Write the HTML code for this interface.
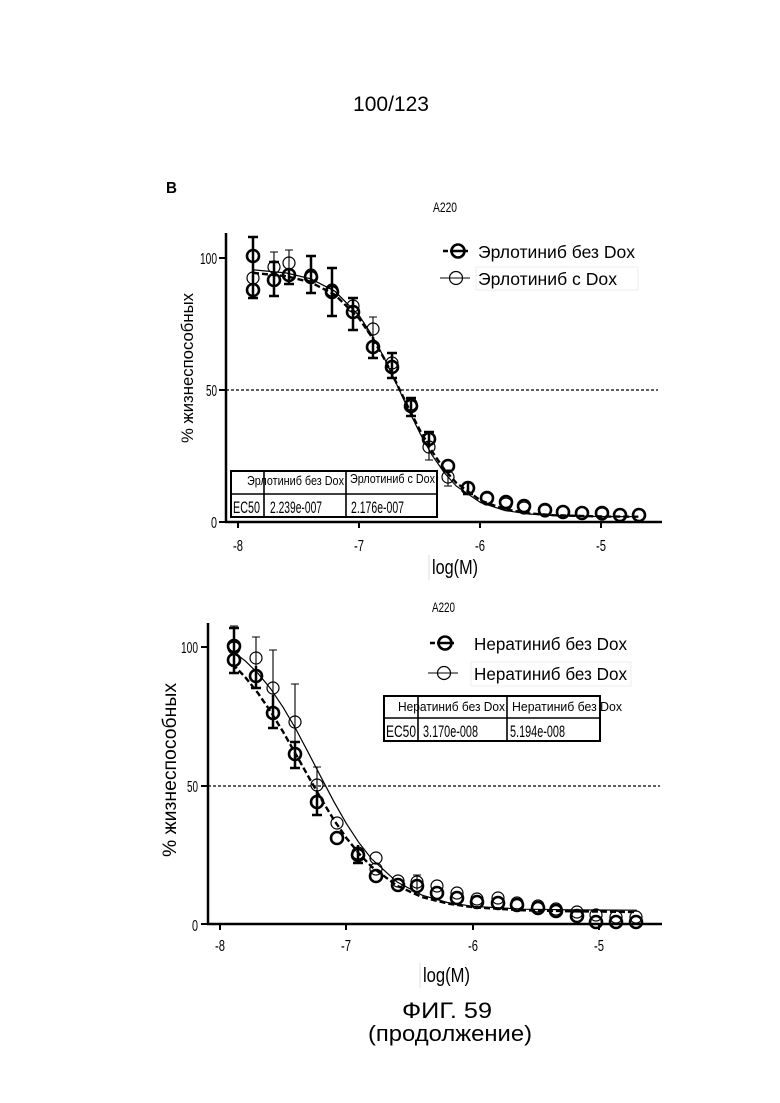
<!DOCTYPE html>
<html><head><meta charset="utf-8">
<style>
html,body{margin:0;padding:0;background:#fff;}
svg{display:block;}
text{font-family:"Liberation Sans","DejaVu Sans",sans-serif;fill:#000;}
</style></head>
<body>
<svg width="780" height="1103" viewBox="0 0 780 1103" xmlns="http://www.w3.org/2000/svg">
<rect width="780" height="1103" fill="#fff"/>
<text x="391" y="111" font-size="21" text-anchor="middle">100/123</text>
<text x="166" y="193" font-size="16" font-weight="bold" textLength="11" lengthAdjust="spacingAndGlyphs">B</text>

<!-- ===== TOP CHART ===== -->
<text x="433" y="212" font-size="14" textLength="24" lengthAdjust="spacingAndGlyphs">A220</text>
<!-- axes -->
<g stroke="#000" stroke-width="2.5" fill="none">
<line x1="226" y1="233" x2="226" y2="523"/>
<line x1="225" y1="522" x2="662" y2="522"/>
</g>
<g stroke="#000" stroke-width="2">
<line x1="219" y1="258" x2="226" y2="258"/>
<line x1="219" y1="390" x2="226" y2="390"/>
<line x1="219" y1="522" x2="226" y2="522"/>
<line x1="238" y1="522" x2="238" y2="528"/>
<line x1="359" y1="522" x2="359" y2="528"/>
<line x1="480" y1="522" x2="480" y2="528"/>
<line x1="601" y1="522" x2="601" y2="528"/>
</g>
<g font-size="16">
<text x="217" y="264" text-anchor="end" textLength="17" lengthAdjust="spacingAndGlyphs">100</text>
<text x="217" y="396" text-anchor="end" textLength="11" lengthAdjust="spacingAndGlyphs">50</text>
<text x="217" y="528" text-anchor="end" textLength="6" lengthAdjust="spacingAndGlyphs">0</text>
<text x="233" y="551" textLength="10" lengthAdjust="spacingAndGlyphs">-8</text>
<text x="354" y="551" textLength="10" lengthAdjust="spacingAndGlyphs">-7</text>
<text x="475" y="551" textLength="10" lengthAdjust="spacingAndGlyphs">-6</text>
<text x="596" y="551" textLength="10" lengthAdjust="spacingAndGlyphs">-5</text>
</g>
<text x="432" y="574" font-size="20" textLength="46" lengthAdjust="spacingAndGlyphs">log(M)</text>
<line x1="429" y1="555" x2="429" y2="580" stroke="#ddd" stroke-width="1"/>
<text transform="translate(193,368) rotate(-90)" font-size="16.5" text-anchor="middle" textLength="150" lengthAdjust="spacingAndGlyphs">% жизнеспособных</text>
<!-- 50% line -->
<line x1="226" y1="390" x2="658" y2="390" stroke="#000" stroke-width="1.3" stroke-dasharray="3,2"/>
<!-- curves -->
<polyline fill="none" stroke="#000" stroke-width="1.2" points="253,269.8 286.5,273.0 310.8,278.8 335.0,291.3 359.3,315.8 371.4,334.3 383.6,356.7 395.7,382.1 407.8,408.5 420,433.3 432.1,455.2 444.2,472.6 456.3,486.1 480.6,502.6 504.9,510.5 529.1,514 553.4,515.5 601.9,516.6 638.3,516.7"/>
<polyline fill="none" stroke="#000" stroke-width="2.4" stroke-dasharray="6,3" points="253,272.9 286.5,276.2 310.8,282.3 335.0,294.8 359.3,318.7 371.4,336.4 383.6,357.5 395.7,381.5 407.8,406.4 420,430.4 432.1,451.5 444.2,469.2 456.3,482.9 480.6,500.5 504.9,509.3 529.1,513.4 553.4,515.2 601.9,516.5 638.3,516.7"/>
<!-- thin error bars -->
<g stroke="#000" stroke-width="1.1" fill="none">
<path d="M274 252V283M270 252H278M289 250V278M285 250H293M373 317V350M369 317H377M448 470V486M444 470H452M444 486H452M429 433V460M425 460H433"/>
</g>
<!-- thin markers -->
<g stroke="#000" stroke-width="1.2" fill="#fff" fill-opacity="0">
<circle cx="253" cy="278" r="6"/><circle cx="274" cy="267" r="6"/><circle cx="289" cy="263" r="6"/>
<circle cx="311" cy="275" r="6"/><circle cx="332" cy="290" r="6"/><circle cx="353" cy="306" r="6"/>
<circle cx="373" cy="329" r="6"/><circle cx="392" cy="363" r="6"/><circle cx="411" cy="404" r="6"/>
<circle cx="429" cy="447" r="6"/><circle cx="448" cy="477" r="6"/><circle cx="468" cy="488" r="6"/>
<circle cx="487" cy="499" r="6"/><circle cx="506" cy="504" r="6"/><circle cx="524" cy="508" r="6"/>
<circle cx="545" cy="511" r="6"/><circle cx="563" cy="512" r="6"/><circle cx="582" cy="513" r="6"/>
<circle cx="602" cy="514" r="6"/><circle cx="620" cy="515" r="6"/><circle cx="639" cy="515" r="6"/>
</g>
<!-- bold error bars -->
<g stroke="#000" stroke-width="2.5" fill="none">
<path d="M253 237V298M248 237H258M248 298H258
M274 262V296M269 262H279M269 296H279
M289 268V284M284 284H294
M311 256V293M306 256H316M306 293H316
M332 268V316M327 268H337M327 316H337
M353 298V330M348 298H358M348 330H358
M373 337V358M368 358H378
M392 353V378M387 353H397M387 378H397
M411 398V416M406 398H416M406 416H416
M429 432V447M424 432H434
M468 482V494M463 494H473"/>
</g>
<!-- bold markers -->
<g stroke="#000" stroke-width="2.6" fill="none">
<circle cx="253" cy="256" r="6"/><circle cx="253" cy="290" r="6"/><circle cx="274" cy="280" r="6"/>
<circle cx="289" cy="275" r="6"/><circle cx="311" cy="277" r="6"/><circle cx="332" cy="292" r="6"/>
<circle cx="353" cy="312" r="6"/><circle cx="373" cy="347" r="6"/><circle cx="392" cy="367" r="6"/>
<circle cx="411" cy="406" r="6"/><circle cx="429" cy="439" r="6"/><circle cx="448" cy="466" r="6"/>
<circle cx="468" cy="488" r="6"/><circle cx="487" cy="498" r="6"/><circle cx="506" cy="502" r="6"/>
<circle cx="524" cy="506" r="6"/><circle cx="545" cy="510" r="6"/><circle cx="563" cy="512" r="6"/>
<circle cx="582" cy="513" r="6"/><circle cx="602" cy="513" r="6"/><circle cx="620" cy="515" r="6"/>
<circle cx="639" cy="515" r="6"/>
</g>
<!-- legend top -->
<g stroke="#000" fill="none">
<line x1="443" y1="251" x2="448" y2="251" stroke-width="2.5"/>
<line x1="450" y1="251" x2="468" y2="251" stroke-width="2.5"/>
<circle cx="458" cy="251" r="6.5" stroke-width="2.6"/>
<line x1="440" y1="278" x2="470" y2="278" stroke-width="1.1"/>
<circle cx="456" cy="278" r="6.5" stroke-width="1.2"/>
</g>
<rect x="476" y="267" width="162" height="23" fill="none" stroke="#eee" stroke-width="1"/>
<text x="478" y="258" font-size="17.5" textLength="157" lengthAdjust="spacingAndGlyphs">Эрлотиниб без Dox</text>
<text x="478" y="285" font-size="17.5" textLength="139" lengthAdjust="spacingAndGlyphs">Эрлотиниб с Dox</text>
<!-- table top -->
<rect x="231" y="471" width="206" height="46" fill="#fff" stroke="#000" stroke-width="2"/>
<g stroke="#000" stroke-width="1.6">
<line x1="231" y1="494" x2="437" y2="494"/>
<line x1="264" y1="471" x2="264" y2="517"/>
<line x1="346" y1="471" x2="346" y2="517"/>
</g>
<text x="247" y="485" font-size="13" textLength="97" lengthAdjust="spacingAndGlyphs">Эрлотиниб без Dox</text>
<text x="350" y="483" font-size="13" textLength="85" lengthAdjust="spacingAndGlyphs">Эрлотиниб с Dox</text>
<text x="233" y="513" font-size="17" textLength="27" lengthAdjust="spacingAndGlyphs">EC50</text>
<text x="270" y="513" font-size="17" textLength="52" lengthAdjust="spacingAndGlyphs">2.239e-007</text>
<text x="351" y="513" font-size="17" textLength="53" lengthAdjust="spacingAndGlyphs">2.176e-007</text>

<!-- ===== BOTTOM CHART ===== -->
<text x="432" y="612" font-size="14" textLength="23" lengthAdjust="spacingAndGlyphs">A220</text>
<g stroke="#000" stroke-width="2.5" fill="none">
<line x1="208" y1="623" x2="208" y2="925"/>
<line x1="207" y1="924" x2="662" y2="924"/>
</g>
<g stroke="#000" stroke-width="2">
<line x1="201" y1="647" x2="208" y2="647"/>
<line x1="201" y1="786" x2="208" y2="786"/>
<line x1="201" y1="924" x2="208" y2="924"/>
<line x1="220" y1="924" x2="220" y2="930"/>
<line x1="346" y1="924" x2="346" y2="930"/>
<line x1="473" y1="924" x2="473" y2="930"/>
<line x1="599" y1="924" x2="599" y2="930"/>
</g>
<g font-size="16">
<text x="198" y="653" text-anchor="end" textLength="17" lengthAdjust="spacingAndGlyphs">100</text>
<text x="198" y="792" text-anchor="end" textLength="11" lengthAdjust="spacingAndGlyphs">50</text>
<text x="198" y="931" text-anchor="end" textLength="6" lengthAdjust="spacingAndGlyphs">0</text>
<text x="215" y="951" textLength="10" lengthAdjust="spacingAndGlyphs">-8</text>
<text x="341" y="951" textLength="10" lengthAdjust="spacingAndGlyphs">-7</text>
<text x="468" y="951" textLength="10" lengthAdjust="spacingAndGlyphs">-6</text>
<text x="594" y="951" textLength="10" lengthAdjust="spacingAndGlyphs">-5</text>
</g>
<text x="423" y="982" font-size="20" textLength="47" lengthAdjust="spacingAndGlyphs">log(M)</text>
<line x1="420" y1="963" x2="420" y2="988" stroke="#ddd" stroke-width="1"/>
<text transform="translate(176,770) rotate(-90)" font-size="19" text-anchor="middle" textLength="174" lengthAdjust="spacingAndGlyphs">% жизнеспособных</text>
<line x1="208" y1="786" x2="660" y2="786" stroke="#000" stroke-width="1.3" stroke-dasharray="3,2"/>
<polyline fill="none" stroke="#000" stroke-width="1.2" points="232.6,651.2 245.3,660.9 257.9,673.3 270.5,688.6 283.2,707.4 295.8,729.0 308.4,752.8 321.1,777.3 333.7,801.3 346.3,823.4 359.0,842.8 371.6,858.9 396.9,881.9 422.1,895.2 447.4,902.5 472.6,906.3 523.1,909.2 573.6,909.9 636.8,910.2"/>
<polyline fill="none" stroke="#000" stroke-width="2.4" stroke-dasharray="6,3" points="232.6,664.1 245.3,677.2 257.9,693.0 270.5,711.3 283.2,732.0 295.8,754.2 308.4,776.6 321.1,798.8 333.7,819.6 346.3,837.9 359.0,853.6 371.6,866.7 396.9,885.7 422.1,897.1 447.4,903.5 472.6,907.2 523.1,910.3 573.6,911.3 636.8,912"/>
<!-- thin error bars -->
<g stroke="#000" stroke-width="1.1" fill="none">
<path d="M234 626V665M230 626H238M256 637V680M252 637H260M273 650V720M269 650H277M295 684V745M291 684H299M317 767V800M313 767H321M417 875V890M413 875H421"/>
</g>
<g stroke="#000" stroke-width="1.2" fill="none">
<circle cx="234" cy="648" r="6"/><circle cx="256" cy="658" r="6"/><circle cx="273" cy="688" r="6"/>
<circle cx="295" cy="722" r="6"/><circle cx="317" cy="785" r="6"/><circle cx="337" cy="823" r="6"/>
<circle cx="358" cy="853" r="6"/><circle cx="376" cy="858" r="6"/><circle cx="376" cy="869" r="6"/>
<circle cx="398" cy="881" r="6"/><circle cx="417" cy="882" r="6"/><circle cx="437" cy="886" r="6"/>
<circle cx="457" cy="893" r="6"/><circle cx="477" cy="899" r="6"/><circle cx="498" cy="898" r="6"/>
<circle cx="517" cy="903" r="6"/><circle cx="538" cy="906" r="6"/><circle cx="556" cy="909" r="6"/>
<circle cx="577" cy="912" r="6"/><circle cx="596" cy="915" r="6"/><circle cx="616" cy="917" r="6"/>
<circle cx="636" cy="917" r="6"/>
</g>
<g stroke="#000" stroke-width="2.5" fill="none">
<path d="M234 628V673M229 628H239M229 673H239
M256 666V688M251 688H261
M273 695V728M268 728H278
M295 742V768M290 742H300M290 768H300
M317 790V815M312 815H322
M358 845V863M353 863H363"/>
</g>
<g stroke="#000" stroke-width="2.6" fill="none">
<circle cx="234" cy="646" r="6"/><circle cx="234" cy="660" r="6"/><circle cx="256" cy="676" r="6"/>
<circle cx="273" cy="713" r="6"/><circle cx="295" cy="754" r="6"/><circle cx="317" cy="802" r="6"/>
<circle cx="337" cy="838" r="6"/><circle cx="358" cy="855" r="6"/><circle cx="376" cy="876" r="6"/>
<circle cx="398" cy="885" r="6"/><circle cx="417" cy="886" r="6"/><circle cx="437" cy="893" r="6"/>
<circle cx="457" cy="898" r="6"/><circle cx="477" cy="902" r="6"/><circle cx="498" cy="903" r="6"/>
<circle cx="517" cy="905" r="6"/><circle cx="538" cy="908" r="6"/><circle cx="556" cy="911" r="6"/>
<circle cx="577" cy="916" r="6"/><circle cx="596" cy="922" r="6"/><circle cx="616" cy="922" r="6"/>
<circle cx="636" cy="922" r="6"/>
</g>
<!-- legend bottom -->
<g stroke="#000" fill="none">
<line x1="430" y1="643" x2="435" y2="643" stroke-width="2.5"/>
<line x1="437" y1="643" x2="454" y2="643" stroke-width="2.5"/>
<circle cx="445" cy="643" r="6.5" stroke-width="2.6"/>
<line x1="428" y1="673" x2="458" y2="673" stroke-width="1.1"/>
<circle cx="444" cy="673" r="6.5" stroke-width="1.2"/>
</g>
<rect x="471" y="662" width="160" height="24" fill="none" stroke="#eee" stroke-width="1"/>
<text x="474" y="650" font-size="17.5" textLength="153" lengthAdjust="spacingAndGlyphs">Нератиниб без Dox</text>
<text x="474" y="680" font-size="17.5" textLength="153" lengthAdjust="spacingAndGlyphs">Нератиниб без Dox</text>
<!-- table bottom -->
<rect x="384" y="696" width="216" height="45" fill="#fff" stroke="#000" stroke-width="2"/>
<g stroke="#000" stroke-width="1.6">
<line x1="384" y1="718" x2="600" y2="718"/>
<line x1="418" y1="696" x2="418" y2="741"/>
<line x1="507" y1="696" x2="507" y2="741"/>
</g>
<text x="398" y="711" font-size="13" textLength="107" lengthAdjust="spacingAndGlyphs">Нератиниб без Dox</text>
<text x="512" y="711" font-size="13" textLength="110" lengthAdjust="spacingAndGlyphs">Нератиниб без Dox</text>
<text x="386" y="737" font-size="17" textLength="30" lengthAdjust="spacingAndGlyphs">EC50</text>
<text x="423" y="737" font-size="17" textLength="55" lengthAdjust="spacingAndGlyphs">3.170e-008</text>
<text x="510" y="737" font-size="17" textLength="55" lengthAdjust="spacingAndGlyphs">5.194e-008</text>

<!-- caption -->
<text x="447" y="1018" font-size="22" text-anchor="middle" textLength="90" lengthAdjust="spacingAndGlyphs">ФИГ. 59</text>
<text x="450" y="1041" font-size="22" text-anchor="middle" textLength="164" lengthAdjust="spacingAndGlyphs">(продолжение)</text>
</svg>
</body></html>
